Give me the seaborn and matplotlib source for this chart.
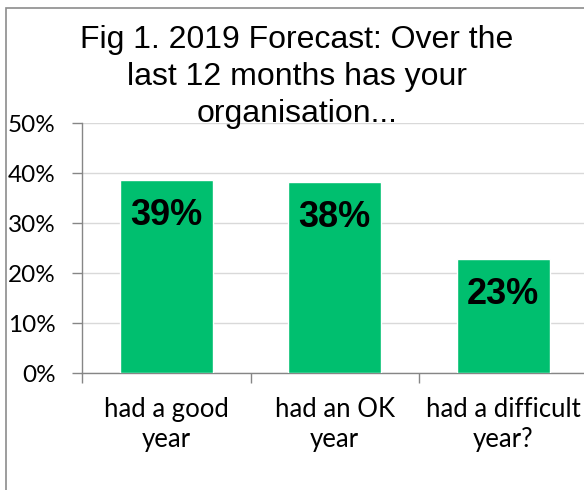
import matplotlib
matplotlib.use("Agg")
import matplotlib.pyplot as plt
import matplotlib.patches as mpatches
import seaborn as sns
import pandas as pd

# chart data
categories = ["had a good\nyear", "had an OK\nyear", "had a difficult\nyear?"]
shares = [38.6, 38.2, 22.9]
share_labels = ["39%", "38%", "23%"]
y_ticks = [0, 10, 20, 30, 40, 50]

df = pd.DataFrame({"answer": categories, "share": shares})

sns.set_theme(style="white")
plt.rcParams["font.family"] = ["Liberation Sans", "DejaVu Sans"]

fig = plt.figure(figsize=(5.84, 4.9), dpi=100)
fig.patch.set_facecolor("white")
ax = fig.add_axes([82 / 584, 1 - 373 / 490, 505.5 / 584, 250 / 490])

sns.barplot(data=df, x="answer", y="share", color="#00BF6F", width=0.55,
            saturation=1, ax=ax, zorder=3)

for i, (v, lab) in enumerate(zip(shares, share_labels)):
    ax.text(i, v - 7.1, lab, ha="center", va="center", fontsize=26,
            fontweight="bold", color="black", zorder=4)

ax.set_ylim(0, 50)
ax.set_xlim(-0.5, 2.5)
ax.set_yticks(y_ticks)
ax.set_yticklabels([f"{t}%" for t in y_ticks])
ax.set_xlabel("")
ax.set_ylabel("")
ax.yaxis.grid(True, color="#d9d9d9", linewidth=1)
ax.set_axisbelow(True)

for side in ["top", "right"]:
    ax.spines[side].set_visible(False)
for side in ["left", "bottom"]:
    ax.spines[side].set_color("#868686")
    ax.spines[side].set_linewidth(1)

ax.set_xticks([-0.5, 0.5, 1.5, 2.5], minor=True)
ax.tick_params(axis="x", which="minor", direction="out", length=7,
               color="#868686", width=1, bottom=True)
ax.tick_params(axis="x", which="major", length=0, pad=17)
ax.tick_params(axis="y", direction="out", length=7, color="#868686",
               width=1, left=True, pad=12)
for t in ax.get_yticklabels():
    t.set_family(["Lato", "DejaVu Sans"])
    t.set_fontsize(17.5)
    t.set_color("black")
for t in ax.get_xticklabels():
    t.set_family(["Lato", "DejaVu Sans"])
    t.set_fontsize(18.5)
    t.set_color("black")
    t.set_linespacing(1.25)

fig.text(297 / 584, 1 - 25 / 490,
         "Fig 1. 2019 Forecast: Over the\nlast 12 months has your\norganisation...",
         ha="center", va="top", fontsize=23, linespacing=1.3, color="black",
         zorder=5)

# outer chart border, partly cropped like the source
fig.patches.append(mpatches.Rectangle((6 / 584, -0.1), 1.2, 1 - 8 / 490 + 0.1,
                                      transform=fig.transFigure, fill=False,
                                      edgecolor="#8c8c8c", linewidth=1.2))

fig.savefig("out.png", dpi=100)
